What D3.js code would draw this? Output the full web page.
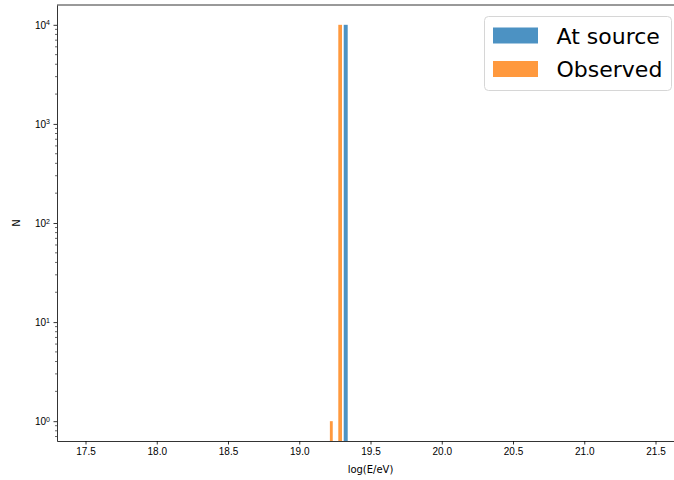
<!DOCTYPE html>
<html lang="en">
<head>
    <meta charset="UTF-8">
    <title>Energy histogram</title>
    <style>
        body {
            margin: 0;
            background-color: white;
        }

        svg {
            display: block;
            font-family: "DejaVu Sans", sans-serif;
        }

        .tick text {
            font-size: 10px;
            fill: #000;
        }

        .axis-label {
            font-size: 10px;
        }

        .legend-text {
            font-size: 22px;
        }
    </style>
    <script src="https://d3js.org/d3.v7.min.js"></script>
</head>
<body>

<script>
    // histogram bins: [left edge, right edge] and counts
    const sourceBinLeft = [19.312];
    const sourceBinRight = [19.340];
    const sourceCounts = [10000];

    const observedBinLeft = [19.215, 19.274];
    const observedBinRight = [19.235, 19.300];
    const observedCounts = [1, 10000];

    const xTicks = [17.5, 18.0, 18.5, 19.0, 19.5, 20.0, 20.5, 21.0, 21.5];
    const yTicks = [1, 10, 100, 1000, 10000];
    const seriesNames = ["At source", "Observed"];
    const seriesColors = ["#1f77b4", "#ff7f0e"];

    const width = 674;
    const height = 480;
    const margin = {top: 5, right: -10, bottom: 39, left: 57};

    const svg = d3.select("body")
                  .append("svg")
                  .attr("width", width)
                  .attr("height", height);

    const x = d3.scaleLinear()
                .domain([17.3, 21.7])
                .range([margin.left, width - margin.right]);

    const y = d3.scaleLog()
                .domain([Math.pow(10, -0.2), Math.pow(10, 4.2)])
                .range([height - margin.bottom, margin.top]);

    const plotBottom = height - margin.bottom;

    // bars
    function drawBars(lefts, rights, counts, color) {
        const bins = lefts.map((l, i) => ({l: l, r: rights[i], n: counts[i]}));
        svg.append("g")
           .selectAll("rect")
           .data(bins)
           .enter()
           .append("rect")
           .attr("x", d => x(d.l))
           .attr("width", d => x(d.r) - x(d.l))
           .attr("y", d => y(d.n))
           .attr("height", d => plotBottom - y(d.n))
           .attr("fill", color)
           .attr("fill-opacity", 0.8);
    }

    drawBars(sourceBinLeft, sourceBinRight, sourceCounts, seriesColors[0]);
    drawBars(observedBinLeft, observedBinRight, observedCounts, seriesColors[1]);

    // x axis
    const xAxis = svg.append("g")
                     .attr("transform", `translate(0,${plotBottom})`)
                     .call(d3.axisBottom(x)
                             .tickValues(xTicks)
                             .tickFormat(d3.format(".1f"))
                             .tickSizeInner(3.5)
                             .tickSizeOuter(0)
                             .tickPadding(3.5));
    xAxis.select(".domain").attr("stroke", "#000").attr("stroke-width", 0.8);
    xAxis.selectAll(".tick line").attr("stroke-width", 0.8);

    // y axis, log with minor ticks
    const minorTicks = [];
    for (let e = -1; e <= 4; e++) {
        for (let m = 2; m <= 9; m++) {
            const v = m * Math.pow(10, e);
            if (v >= y.domain()[0] && v <= y.domain()[1]) minorTicks.push(v);
        }
    }

    svg.append("g")
       .attr("transform", `translate(${margin.left},0)`)
       .selectAll("line")
       .data(minorTicks)
       .enter()
       .append("line")
       .attr("x1", -2)
       .attr("x2", 0)
       .attr("y1", d => y(d))
       .attr("y2", d => y(d))
       .attr("stroke", "#000")
       .attr("stroke-width", 0.6);

    const yAxis = svg.append("g")
                     .attr("transform", `translate(${margin.left},0)`)
                     .call(d3.axisLeft(y)
                             .tickValues(yTicks)
                             .tickFormat("")
                             .tickSizeInner(3.5)
                             .tickSizeOuter(0));
    yAxis.select(".domain").attr("stroke", "#000").attr("stroke-width", 0.8);
    yAxis.selectAll(".tick line").attr("stroke-width", 0.8);

    // 10^k labels with superscript
    yAxis.selectAll(".tick")
         .append("text")
         .attr("x", -7)
         .attr("dy", "0.32em")
         .attr("text-anchor", "end")
         .each(function(d) {
             const t = d3.select(this);
             t.append("tspan").text("10");
             t.append("tspan")
              .attr("font-size", "7px")
              .attr("dy", "-0.45em")
              .text(Math.round(Math.log10(d)));
         });

    // top spine
    svg.append("line")
       .attr("x1", margin.left)
       .attr("x2", width)
       .attr("y1", margin.top)
       .attr("y2", margin.top)
       .attr("stroke", "#000")
       .attr("stroke-width", 0.8);

    // axis labels
    svg.append("text")
       .attr("class", "axis-label")
       .attr("x", (x.range()[0] + x.range()[1]) / 2)
       .attr("y", 473)
       .attr("text-anchor", "middle")
       .text("log(E/eV)");

    svg.append("text")
       .attr("class", "axis-label")
       .attr("transform", `translate(20,${(margin.top + plotBottom) / 2}) rotate(-90)`)
       .attr("text-anchor", "middle")
       .text("N");

    // legend
    const legend = svg.append("g");
    legend.append("rect")
          .attr("x", 484.5)
          .attr("y", 16.5)
          .attr("width", 187)
          .attr("height", 74)
          .attr("rx", 4)
          .attr("fill", "white")
          .attr("fill-opacity", 0.8)
          .attr("stroke", "#d6d6d6")
          .attr("stroke-width", 1);

    seriesNames.forEach((name, i) => {
        legend.append("rect")
              .attr("x", 493)
              .attr("y", 27.5 + i * 33.5)
              .attr("width", 45)
              .attr("height", 16)
              .attr("fill", seriesColors[i])
              .attr("fill-opacity", 0.8);
        legend.append("text")
              .attr("class", "legend-text")
              .attr("x", 556.5)
              .attr("y", 43.5 + i * 33.5)
              .text(name);
    });
</script>

</body>
</html>
